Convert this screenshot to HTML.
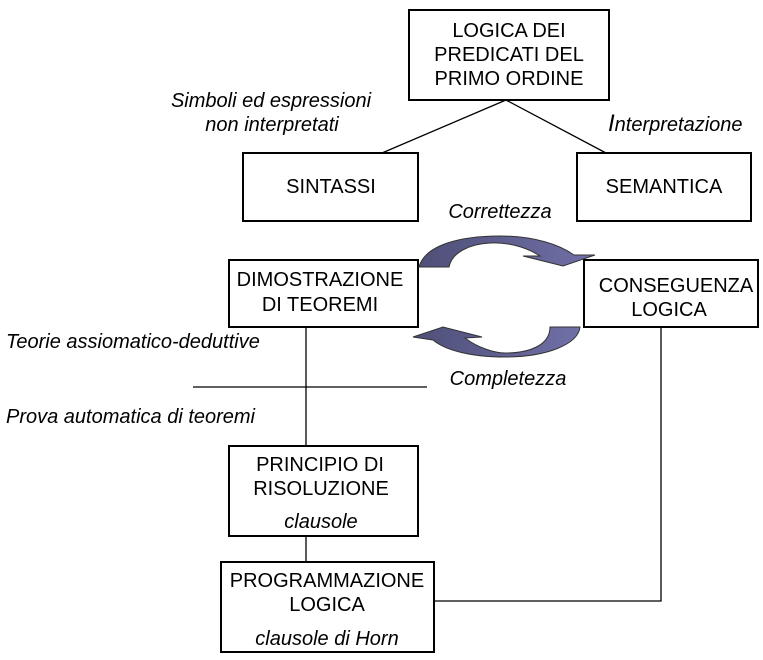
<!DOCTYPE html>
<html><head><meta charset="utf-8">
<style>
html,body{margin:0;padding:0;background:#fff;}
svg{display:block;}
text{font-family:"Liberation Sans",Arial,sans-serif;font-size:20px;fill:#000;}
.i{font-style:italic;}
</style></head>
<body>
<svg width="763" height="660" viewBox="0 0 763 660" xmlns="http://www.w3.org/2000/svg">
<defs>
<linearGradient id="g" x1="0" y1="0" x2="1" y2="0">
<stop offset="0" stop-color="#4f4f78"/><stop offset="1" stop-color="#7070a8"/>
</linearGradient>
</defs>
<g fill="none" stroke="#000" stroke-width="1.3">
<line x1="382" y1="153" x2="506" y2="100"/>
<line x1="506" y1="100" x2="606" y2="153"/>
<line x1="306" y1="327" x2="306" y2="446"/>
<line x1="306" y1="536" x2="306" y2="561"/>
<line x1="193" y1="387" x2="427" y2="387"/>
<polyline points="661,327 661,601 434,601"/>
</g>
<g fill="#fff" stroke="#000" stroke-width="2">
<rect x="409" y="10" width="200" height="90"/>
<rect x="243" y="153" width="175" height="68"/>
<rect x="577" y="153" width="174" height="68"/>
<rect x="229" y="260" width="189" height="67"/>
<rect x="584" y="260" width="174" height="67"/>
<rect x="229" y="446" width="189" height="90"/>
<rect x="221" y="562" width="213" height="90"/>
</g>
<path d="M419,267 C425,245 460,236 500,236 C535,236 560,245 574,255 L595,255 L563,266 L523,256 L540,256 C525,246 505,242 490,243 C470,244 452,252 449,267 Z" fill="url(#g)" stroke="#333" stroke-width="1"/>
<path d="M580,327 C578,345 545,357 505,357 C470,357 445,350 433,340 L413,337 L443,327 L482,337 L465,338 C478,348 495,353 505,353 C530,353 550,345 550,327 Z" fill="url(#g)" stroke="#333" stroke-width="1"/>
<g text-anchor="middle">
<text x="509" y="37">LOGICA DEI</text>
<text x="509" y="61">PREDICATI DEL</text>
<text x="509" y="85">PRIMO ORDINE</text>
<text x="331" y="193">SINTASSI</text>
<text x="664" y="193">SEMANTICA</text>
<text x="320" y="286">DIMOSTRAZIONE</text>
<text x="320" y="311">DI TEOREMI</text>
<text x="676" y="292">CONSEGUENZA</text>
<text x="669" y="316">LOGICA</text>
<text x="320" y="471">PRINCIPIO DI</text>
<text x="321" y="495">RISOLUZIONE</text>
<text class="i" x="321" y="528">clausole</text>
<text x="327" y="587">PROGRAMMAZIONE</text>
<text x="327" y="611">LOGICA</text>
<text class="i" x="327" y="645">clausole di Horn</text>
<text class="i" x="271" y="107">Simboli ed espressioni</text>
<text class="i" x="272" y="131">non interpretati</text>
<text class="i" x="500" y="218">Correttezza</text>
<text class="i" x="508" y="385">Completezza</text>
</g>
<text class="i" x="608" y="131"><tspan style="font-size:24px">I</tspan>nterpretazione</text>
<text class="i" x="6" y="348">Teorie assiomatico-deduttive</text>
<text class="i" x="6" y="423">Prova automatica di teoremi</text>
</svg>
</body></html>
